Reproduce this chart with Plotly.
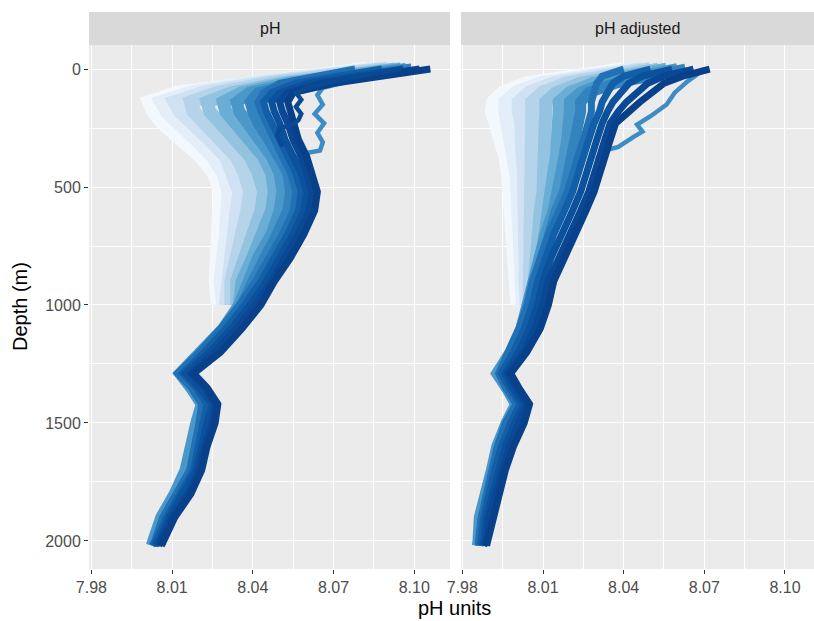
import plotly.graph_objects as go

# ---------------- data ----------------
depth_full = [0, 30, 60, 100, 140, 180, 230, 300, 370, 440, 520, 600, 700, 800,
              900, 1000, 1100, 1200, 1290, 1350, 1420, 1500, 1600, 1700, 1800,
              1900, 2000, 2020]
depth_shallow = [0, 30, 60, 100, 140, 180, 230, 300, 370, 440, 520, 600, 700,
                 800, 900, 1000]

panel_names = ["pH", "pH adjusted"]
x_tick_values = [7.98, 8.01, 8.04, 8.07, 8.10]
x_tick_labels = ["7.98", "8.01", "8.04", "8.07", "8.10"]
y_tick_values = [0, 500, 1000, 1500, 2000]
y_tick_labels = ["0", "500", "1000", "1500", "2000"]

# colour per cast group (light = early, dark = late)
colors = {
    "L1": "#F3F8FD", "L2": "#E3EEF9", "L3": "#CFE1F2", "L4": "#B5D4EA",
    "M1": "#93C3DF", "M2": "#6AADD5", "M3": "#4A97CA", "M4": "#3383BF",
    "O1": "#3E8CC5",
    "D1": "#2271B4", "D2": "#125FA8", "D3": "#0B519C", "D4": "#0A4794",
    "D5": "#08408A", "O2": "#0A4A92",
}
widths = {"L1": 14, "L2": 14, "L3": 14, "L4": 14, "M1": 13, "M2": 13, "M3": 12, "M4": 11,
          "O1": 4.5, "D1": 7, "D2": 7, "D3": 7, "D4": 7, "D5": 7, "O2": 4.5}

# ---- panel 1 : pH ----
ph_L1 = [8.082, 8.058, 8.034, 8.012, 8.0015, 8.0030, 8.0065, 8.0135, 8.0205, 8.0255, 8.0280, 8.0275, 8.0270, 8.0265, 8.0262, 8.0270]
ph_L2 = [8.085, 8.061, 8.038, 8.017, 8.006, 8.008, 8.012, 8.019, 8.025, 8.029, 8.031, 8.031, 8.030, 8.029, 8.028, 8.029]
ph_L3 = [8.088, 8.064, 8.042, 8.022, 8.011, 8.013, 8.017, 8.024, 8.030, 8.033, 8.035, 8.034, 8.033, 8.031, 8.030, 8.030]
ph_L4 = [8.090, 8.067, 8.046, 8.027, 8.017, 8.018, 8.022, 8.029, 8.034, 8.037, 8.039, 8.038, 8.036, 8.034, 8.032, 8.032]
ph_M1 = [8.093, 8.070, 8.050, 8.032, 8.023, 8.024, 8.028, 8.034, 8.039, 8.042, 8.044, 8.043, 8.040, 8.037, 8.034, 8.034]
ph_M2 = [8.095, 8.073, 8.053, 8.036, 8.029, 8.030, 8.034, 8.040, 8.044, 8.047, 8.048, 8.047, 8.044, 8.040, 8.036, 8.035]
ph_M3 = [8.097, 8.076, 8.056, 8.039, 8.034, 8.035, 8.038, 8.043, 8.047, 8.050, 8.051, 8.050, 8.047, 8.042, 8.038, 8.035,
         8.029, 8.021, 8.013, 8.017, 8.021, 8.019, 8.017, 8.015, 8.011, 8.006, 8.003, 8.0025]
ph_M4 = [8.099, 8.079, 8.059, 8.042, 8.039, 8.040, 8.042, 8.046, 8.050, 8.053, 8.054, 8.053, 8.049, 8.044, 8.040, 8.036]
ph_D1 = [8.078, 8.062, 8.050, 8.044, 8.042, 8.043, 8.045, 8.048, 8.051, 8.054, 8.056, 8.055, 8.051, 8.046, 8.041, 8.035,
         8.028, 8.020, 8.012, 8.017, 8.021, 8.020, 8.0185, 8.0165, 8.0115, 8.0065, 8.0035, 8.0025]
ph_D2 = [8.088, 8.070, 8.056, 8.047, 8.044, 8.045, 8.047, 8.050, 8.053, 8.056, 8.058, 8.057, 8.053, 8.048, 8.043, 8.037,
         8.030, 8.022, 8.014, 8.019, 8.023, 8.0215, 8.020, 8.018, 8.013, 8.008, 8.004, 8.003]
ph_D3 = [8.096, 8.077, 8.061, 8.050, 8.047, 8.048, 8.050, 8.052, 8.055, 8.058, 8.060, 8.059, 8.055, 8.050, 8.045, 8.039,
         8.032, 8.024, 8.015, 8.020, 8.025, 8.023, 8.021, 8.019, 8.014, 8.009, 8.005, 8.004]
ph_D4 = [8.102, 8.083, 8.066, 8.053, 8.050, 8.051, 8.053, 8.055, 8.058, 8.060, 8.062, 8.061, 8.057, 8.052, 8.047, 8.041,
         8.034, 8.026, 8.017, 8.022, 8.026, 8.025, 8.022, 8.020, 8.016, 8.010, 8.006, 8.005]
ph_D5 = [8.106, 8.088, 8.070, 8.055, 8.053, 8.054, 8.055, 8.057, 8.060, 8.062, 8.064, 8.063, 8.059, 8.054, 8.048, 8.043,
         8.036, 8.028, 8.018, 8.023, 8.027, 8.026, 8.023, 8.021, 8.017, 8.011, 8.007, 8.006]
ph_O1_depth = [0, 40, 80, 110, 150, 190, 230, 270, 310, 345, 360, 380, 420, 460]
ph_O1 = [8.100, 8.080, 8.066, 8.064, 8.066, 8.063, 8.0665, 8.064, 8.066, 8.065, 8.058, 8.056, 8.058, 8.060]
ph_O2_depth = [0, 40, 80, 100, 130, 160, 190, 215, 235, 250, 280, 330]
ph_O2 = [8.095, 8.075, 8.060, 8.056, 8.058, 8.056, 8.058, 8.057, 8.055, 8.050, 8.049, 8.051]

# ---- panel 2 : pH adjusted ----
adj_L1 = [8.040, 8.020, 8.004, 7.995, 7.9915, 7.9910, 7.9925, 7.9945, 7.996, 7.997, 7.9975, 7.998, 7.9985, 7.999, 7.9995, 8.0005]
adj_L2 = [8.044, 8.025, 8.009, 8.000, 7.996, 7.996, 7.997, 7.998, 7.999, 8.000, 8.0005, 8.001, 8.001, 8.0015, 8.002, 8.0025]
adj_L3 = [8.047, 8.029, 8.014, 8.005, 8.001, 8.001, 8.002, 8.002, 8.003, 8.003, 8.003, 8.0035, 8.0035, 8.0035, 8.0035, 8.004]
adj_L4 = [8.050, 8.033, 8.019, 8.010, 8.006, 8.006, 8.006, 8.006, 8.006, 8.006, 8.006, 8.006, 8.006, 8.0055, 8.005, 8.005]
adj_M1 = [8.053, 8.037, 8.024, 8.015, 8.011, 8.011, 8.011, 8.011, 8.011, 8.010, 8.010, 8.009, 8.008, 8.007, 8.006, 8.006]
adj_M2 = [8.056, 8.041, 8.029, 8.020, 8.016, 8.016, 8.016, 8.016, 8.015, 8.014, 8.013, 8.012, 8.010, 8.009, 8.008, 8.007]
adj_M3 = [8.060, 8.045, 8.033, 8.024, 8.020, 8.020, 8.020, 8.019, 8.018, 8.017, 8.016, 8.014, 8.011, 8.009, 8.007, 8.005,
          8.002, 7.998, 7.993, 7.9965, 8.000, 7.9965, 7.993, 7.991, 7.9885, 7.9865, 7.986, 7.9858]
adj_M4 = [8.063, 8.049, 8.037, 8.027, 8.024, 8.024, 8.023, 8.022, 8.021, 8.019, 8.018, 8.015, 8.012, 8.010, 8.008, 8.006]
adj_D1 = [8.040, 8.032, 8.030, 8.029, 8.028, 8.028, 8.027, 8.025, 8.023, 8.021, 8.019, 8.016, 8.012, 8.009, 8.006, 8.004,
          8.001, 7.997, 7.9935, 7.996, 8.000, 7.996, 7.993, 7.991, 7.989, 7.987, 7.986, 7.986]
adj_D2 = [8.050, 8.040, 8.036, 8.034, 8.032, 8.031, 8.029, 8.027, 8.025, 8.023, 8.021, 8.018, 8.014, 8.011, 8.008, 8.006,
          8.003, 7.999, 7.9945, 7.9975, 8.0015, 7.998, 7.9945, 7.992, 7.990, 7.988, 7.987, 7.9865]
adj_D3 = [8.058, 8.047, 8.042, 8.039, 8.036, 8.034, 8.032, 8.030, 8.028, 8.026, 8.024, 8.021, 8.017, 8.013, 8.010, 8.008,
          8.005, 8.001, 7.996, 7.9985, 8.003, 7.9995, 7.996, 7.9935, 7.991, 7.989, 7.988, 7.9875]
adj_D4 = [8.066, 8.055, 8.049, 8.045, 8.041, 8.038, 8.035, 8.033, 8.031, 8.029, 8.027, 8.024, 8.020, 8.016, 8.012, 8.010,
          8.007, 8.003, 7.997, 8.000, 8.004, 8.001, 7.9975, 7.995, 7.9925, 7.990, 7.989, 7.988]
adj_D5 = [8.072, 8.062, 8.055, 8.050, 8.046, 8.042, 8.037, 8.035, 8.033, 8.031, 8.029, 8.026, 8.022, 8.018, 8.014, 8.012,
          8.009, 8.004, 7.998, 8.001, 8.005, 8.003, 7.999, 7.996, 7.994, 7.992, 7.990, 7.989]
adj_O1_depth = [0, 50, 100, 150, 200, 235, 250, 265, 285, 305, 330, 345, 380]
adj_O1 = [8.070, 8.064, 8.059, 8.056, 8.050, 8.045, 8.046, 8.047, 8.044, 8.041, 8.038, 8.033, 8.030]

# ---------------- figure ----------------
panel1 = [("L1", ph_L1, depth_shallow), ("L2", ph_L2, depth_shallow), ("L3", ph_L3, depth_shallow),
          ("L4", ph_L4, depth_shallow), ("M1", ph_M1, depth_shallow), ("M2", ph_M2, depth_shallow),
          ("M3", ph_M3, depth_full), ("M4", ph_M4, depth_shallow), ("O1", ph_O1, ph_O1_depth),
          ("D1", ph_D1, depth_full), ("D2", ph_D2, depth_full), ("D3", ph_D3, depth_full),
          ("D4", ph_D4, depth_full), ("D5", ph_D5, depth_full), ("O2", ph_O2, ph_O2_depth)]
panel2 = [("L1", adj_L1, depth_shallow), ("L2", adj_L2, depth_shallow), ("L3", adj_L3, depth_shallow),
          ("L4", adj_L4, depth_shallow), ("M1", adj_M1, depth_shallow), ("M2", adj_M2, depth_shallow),
          ("M3", adj_M3, depth_full), ("M4", adj_M4, depth_shallow), ("O1", adj_O1, adj_O1_depth),
          ("D1", adj_D1, depth_full), ("D2", adj_D2, depth_full), ("D3", adj_D3, depth_full),
          ("D4", adj_D4, depth_full), ("D5", adj_D5, depth_full)]

fig = go.Figure()
for axes, profiles in (("x", panel1), ("x2", panel2)):
    for key, xs, ds in profiles:
        fig.add_trace(go.Scatter(
            x=xs, y=ds, mode="lines", xaxis=axes, yaxis="y" if axes == "x" else "y2",
            line=dict(color=colors[key], width=widths[key]), showlegend=False,
            hoverinfo="skip"))

W, H = 814, 621
L, R, T, B = 89, 0, 45, 52
pw = W - L - R
ph = H - T - B
d1 = [0, 361 / pw]
d2 = [372 / pw, 1]

font_family = "Liberation Sans, Arial, Helvetica, sans-serif"
tickfont = dict(family=font_family, size=16, color="#4D4D4D")

common_x = dict(tickvals=x_tick_values, ticktext=x_tick_labels, showgrid=True,
                gridcolor="white", gridwidth=1.2, zeroline=False, ticks="outside",
                ticklen=4, tickwidth=1.1, tickcolor="#333333", tickfont=tickfont,
                showline=False,
                minor=dict(tickmode="array", tickvals=[7.995, 8.025, 8.055, 8.085],
                           showgrid=True, gridcolor="white", gridwidth=0.6, ticks=""))
xa1 = dict(common_x, domain=d1, range=[7.9791, 8.1133], anchor="y")
xa2 = dict(common_x, domain=d2, range=[7.9795, 8.1108], anchor="y2")

common_y = dict(range=[2119, -102], showgrid=True, gridcolor="white", gridwidth=1.2,
                zeroline=False, tickvals=y_tick_values, ticktext=y_tick_labels,
                minor=dict(tickmode="array", tickvals=[250, 750, 1250, 1750],
                           showgrid=True, gridcolor="white", gridwidth=0.6, ticks=""),
                domain=[0, 1])
ya1 = dict(common_y, anchor="x", ticks="outside", ticklen=4, tickwidth=1.1,
           tickcolor="#333333", tickfont=tickfont)
ya2 = dict(common_y, anchor="x2", showticklabels=False, ticks="", matches="y")

shapes = []
annotations = []
strip_top = 1 + 33 / ph
for dom, name in zip((d1, d2), panel_names):
    shapes.append(dict(type="rect", xref="paper", yref="paper", x0=dom[0], x1=dom[1],
                       y0=1, y1=strip_top, fillcolor="#D9D9D9", line=dict(width=0),
                       layer="below"))
    annotations.append(dict(text=name, xref="paper", yref="paper",
                            x=(dom[0] + dom[1]) / 2, y=(1 + strip_top) / 2,
                            xanchor="center", yanchor="middle", showarrow=False,
                            font=dict(family=font_family, size=16, color="#1A1A1A")))

annotations.append(dict(text="pH units", xref="paper", yref="paper",
                        x=(454 - L) / pw, y=(H - B - 608) / ph, xanchor="center",
                        yanchor="middle", showarrow=False,
                        font=dict(family=font_family, size=20, color="black")))
annotations.append(dict(text="Depth (m)", xref="paper", yref="paper",
                        x=(20 - L) / pw, y=0.5, xanchor="center", yanchor="middle",
                        textangle=-90, showarrow=False,
                        font=dict(family=font_family, size=20, color="black")))

fig.update_layout(
    width=W, height=H, margin=dict(l=L, r=R, t=T, b=B, pad=0),
    paper_bgcolor="white", plot_bgcolor="#EBEBEB",
    xaxis=xa1, xaxis2=xa2, yaxis=ya1, yaxis2=ya2,
    shapes=shapes, annotations=annotations, hovermode=False,
)

fig.write_html("out.html", config={"displayModeBar": False},
               post_script="document.body.style.margin='0';document.body.style.overflow='hidden';")
